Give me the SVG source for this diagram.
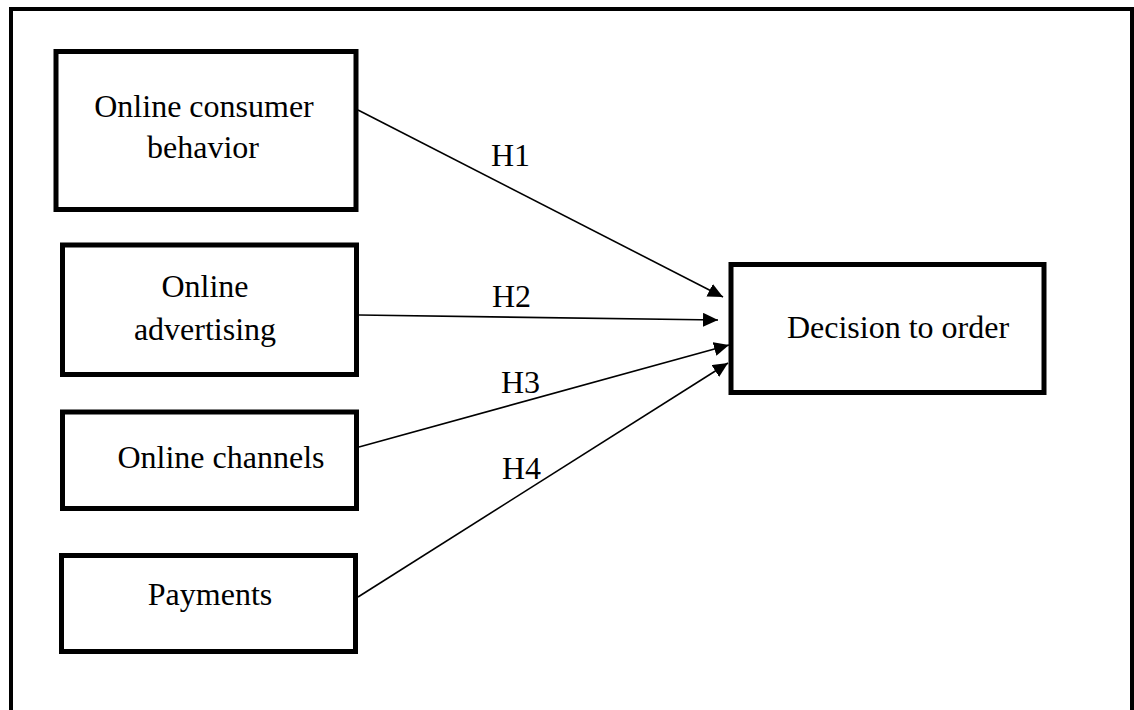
<svg xmlns="http://www.w3.org/2000/svg" width="1134" height="710" viewBox="0 0 1134 710">
<style>
.frame{fill:none;stroke:#000;stroke-width:4}
.box{fill:#fff;stroke:#000;stroke-width:5}
.t{font-family:"Liberation Serif","Times New Roman",serif;font-size:32px;fill:#000}
.c{text-anchor:middle}
.conn{stroke:#000;stroke-width:1.6;fill:none;marker-end:url(#arr)}
</style>
<defs>
<marker id="arr" markerUnits="userSpaceOnUse" markerWidth="16" markerHeight="15" refX="15" refY="7" orient="auto">
<path d="M0,0 L15,7 L0,14 z" fill="#000"/>
</marker>
</defs>
<rect width="1134" height="710" fill="#fff"/>
<rect class="frame" x="11" y="9" width="1121" height="730"/>
<g id="n1">
<rect class="box" x="56" y="51.5" width="300" height="158"/>
<text class="t c" x="204" y="117">Online consumer</text>
<text class="t c" x="203" y="158">behavior</text>
</g>
<g id="n2">
<rect class="box" x="62.5" y="245" width="294" height="129.5"/>
<text class="t c" x="205" y="297">Online</text>
<text class="t c" x="205" y="340">advertising</text>
</g>
<g id="n3">
<rect class="box" x="62.5" y="412" width="294" height="96.5"/>
<text class="t c" x="221" y="468">Online channels</text>
</g>
<g id="n4">
<rect class="box" x="61.5" y="555.5" width="294" height="96"/>
<text class="t c" x="210" y="605">Payments</text>
</g>
<g id="n5">
<rect class="box" x="731" y="264.5" width="313" height="128"/>
<text class="t c" x="898" y="337.5">Decision to order</text>
</g>
<g id="connectors">
<line class="conn" x1="358" y1="110" x2="723" y2="297"/>
<line class="conn" x1="359" y1="315" x2="718" y2="320"/>
<line class="conn" x1="359" y1="447" x2="729" y2="345"/>
<line class="conn" x1="358" y1="597" x2="728" y2="363"/>
<text class="t" x="491" y="166">H1</text>
<text class="t" x="492" y="306.5">H2</text>
<text class="t" x="501" y="393">H3</text>
<text class="t" x="502" y="479">H4</text>
</g>
</svg>
